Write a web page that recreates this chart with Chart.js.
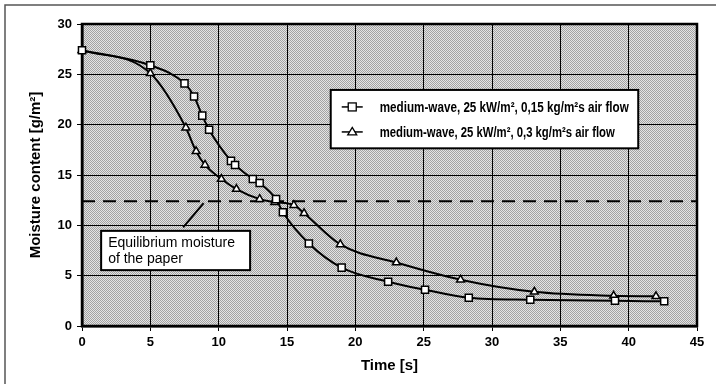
<!DOCTYPE html>
<html>
<head>
<meta charset="utf-8">
<script src="https://cdn.jsdelivr.net/npm/chart.js@4"></script>
<style>
  html, body { margin: 0; padding: 0; background: #fff; }
  #wrap { width: 716px; height: 384px; }
</style>
</head>
<body>
<div id="wrap"><canvas id="moistureChart" width="716" height="384"></canvas></div>
<script>
// data
const timeA = [0, 5, 7.5, 8.2, 8.8, 9.3, 10.9, 11.2, 12.5, 13.0, 14.2, 14.7, 16.6, 19.0, 22.4, 25.1, 28.3, 32.8, 39.0, 42.6];
const moistureA = [27.4, 25.9, 24.1, 22.8, 20.9, 19.5, 16.4, 16.0, 14.6, 14.2, 12.6, 11.3, 8.2, 5.8, 4.4, 3.6, 2.8, 2.6, 2.5, 2.45];
const timeB = [0, 5, 7.6, 8.35, 9.0, 10.2, 11.3, 13.0, 14.1, 15.5, 16.25, 18.9, 23.0, 27.7, 33.1, 38.9, 42.0];
const moistureB = [27.4, 25.1, 19.7, 17.35, 16.0, 14.6, 13.6, 12.6, 12.3, 12.0, 11.2, 8.1, 6.3, 4.6, 3.4, 3.0, 2.95];
const equilibriumTime = [0, 45];
const equilibriumMoisture = [12.4, 12.4];

const seriesLabels = [
    'medium-wave, 25 kW/m², 0,15 kg/m²s air flow',
    'medium-wave, 25 kW/m², 0,3 kg/m²s air flow'
];
const noteLines = ['Equilibrium moisture', 'of the paper'];
const xTicks = [0, 5, 10, 15, 20, 25, 30, 35, 40, 45];
const yTicks = [0, 5, 10, 15, 20, 25, 30];

function toPoints(xs, ys) {
    return xs.map((x, i) => ({ x: x, y: ys[i] }));
}

// dithered grey like the scanned original
function makePattern(ctx) {
    const c = document.createElement('canvas');
    c.width = 2; c.height = 2;
    const p = c.getContext('2d');
    p.fillStyle = '#e4e4e4'; p.fillRect(0, 0, 2, 2);
    p.fillStyle = '#a2a2a2'; p.fillRect(0, 0, 1, 1); p.fillRect(1, 1, 1, 1);
    return ctx.createPattern(c, 'repeat');
}

const decorPlugin = {
    id: 'decor',
    beforeDraw(chart) {
        const ctx = chart.ctx;
        const a = chart.chartArea;
        ctx.save();
        ctx.fillStyle = '#fff';
        ctx.fillRect(0, 0, chart.width, chart.height);
        ctx.fillStyle = makePattern(ctx);
        ctx.fillRect(a.left, a.top, a.right - a.left, a.bottom - a.top);
        // outer frame of the figure (top and left only)
        ctx.strokeStyle = '#555';
        ctx.lineWidth = 1.5;
        ctx.beginPath();
        ctx.moveTo(5, chart.height);
        ctx.lineTo(5, 5);
        ctx.lineTo(chart.width, 5);
        ctx.stroke();
        ctx.restore();
    },
    beforeDatasetsDraw(chart) {
        const ctx = chart.ctx;
        const a = chart.chartArea;
        ctx.save();
        ctx.strokeStyle = '#000';
        ctx.lineWidth = 2.5;
        ctx.strokeRect(a.left, a.top, a.right - a.left, a.bottom - a.top);
        ctx.restore();
    },
    afterDatasetsDraw(chart) {
        const ctx = chart.ctx;
        const xs = chart.scales.x, ys = chart.scales.y;
        ctx.save();

        // note box with leader line
        ctx.strokeStyle = '#000';
        ctx.lineWidth = 2;
        ctx.beginPath();
        ctx.moveTo(xs.getPixelForValue(7.4), ys.getPixelForValue(9.8));
        ctx.lineTo(xs.getPixelForValue(8.9), ys.getPixelForValue(12.2));
        ctx.stroke();
        const nx1 = xs.getPixelForValue(1.4), nx2 = xs.getPixelForValue(12.3);
        const ny1 = ys.getPixelForValue(9.45), ny2 = ys.getPixelForValue(5.55);
        ctx.fillStyle = '#fff';
        ctx.fillRect(nx1, ny1, nx2 - nx1, ny2 - ny1);
        ctx.strokeRect(nx1, ny1, nx2 - nx1, ny2 - ny1);
        ctx.fillStyle = '#000';
        ctx.font = '14px "Liberation Sans", Arial, sans-serif';
        ctx.textBaseline = 'alphabetic';
        ctx.fillText(noteLines[0], nx1 + 7, ny1 + 16);
        ctx.fillText(noteLines[1], nx1 + 7, ny1 + 32);

        // legend box
        const lx1 = xs.getPixelForValue(18.2), lx2 = xs.getPixelForValue(40.7);
        const ly1 = ys.getPixelForValue(23.45), ly2 = ys.getPixelForValue(17.65);
        ctx.fillStyle = '#fff';
        ctx.fillRect(lx1, ly1, lx2 - lx1, ly2 - ly1);
        ctx.strokeStyle = '#000';
        ctx.lineWidth = 2;
        ctx.strokeRect(lx1, ly1, lx2 - lx1, ly2 - ly1);
        const rows = [ly1 + 17, ly1 + 42];
        const widths = [249, 235];
        [0, 1].forEach(i => {
            const ds = chart.data.datasets[i];
            const cy = rows[i];
            ctx.strokeStyle = '#000';
            ctx.lineWidth = 1.5;
            ctx.beginPath();
            ctx.moveTo(lx1 + 11, cy);
            ctx.lineTo(lx1 + 32, cy);
            ctx.stroke();
            ctx.fillStyle = '#fff';
            ctx.lineWidth = 1.3;
            if (ds.pointStyle === 'rect') {
                ctx.fillRect(lx1 + 17.5, cy - 4, 8, 8);
                ctx.strokeRect(lx1 + 17.5, cy - 4, 8, 8);
            } else {
                ctx.beginPath();
                ctx.moveTo(lx1 + 21.5, cy - 4.5);
                ctx.lineTo(lx1 + 26, cy + 3);
                ctx.lineTo(lx1 + 17, cy + 3);
                ctx.closePath();
                ctx.fill();
                ctx.stroke();
            }
            ctx.fillStyle = '#000';
            ctx.font = 'bold 14px "Liberation Sans Narrow", "Arial Narrow", "Liberation Sans", Arial, sans-serif';
            ctx.textBaseline = 'middle';
            const w = ctx.measureText(ds.label).width;
            const sx = Math.min(1, widths[i] / w);
            ctx.save();
            ctx.translate(lx1 + 49, cy + 1);
            ctx.scale(sx, 1);
            ctx.fillText(ds.label, 0, 0);
            ctx.restore();
        });
        ctx.restore();
    }
};

function initializeMoistureChart() {
    const ctx = document.getElementById('moistureChart').getContext('2d');

    const data = {
        datasets: [
            {
                label: seriesLabels[0],
                data: toPoints(timeA, moistureA),
                borderColor: '#000',
                borderWidth: 2,
                pointStyle: 'rect',
                pointRadius: 5,
                pointBorderWidth: 1.5,
                pointBackgroundColor: '#fff',
                pointBorderColor: '#000',
                cubicInterpolationMode: 'monotone',
                clip: false
            },
            {
                label: seriesLabels[1],
                data: toPoints(timeB, moistureB),
                borderColor: '#000',
                borderWidth: 2,
                pointStyle: 'triangle',
                pointRadius: 4.5,
                pointBorderWidth: 1.5,
                pointBackgroundColor: '#fff',
                pointBorderColor: '#000',
                cubicInterpolationMode: 'monotone',
                clip: false
            },
            {
                label: 'Equilibrium moisture',
                data: toPoints(equilibriumTime, equilibriumMoisture),
                borderColor: '#000',
                borderWidth: 2,
                borderDash: [13, 8],
                pointRadius: 0
            }
        ]
    };

    const tickFont = { family: '"Liberation Sans", Arial, sans-serif', size: 13, weight: 'bold' };
    const titleFont = { family: '"Liberation Sans Narrow", "Liberation Sans", Arial, sans-serif', size: 15, weight: 'bold' };

    const options = {
        responsive: false,
        animation: false,
        devicePixelRatio: 1,
        layout: { padding: { left: 10, right: 19, top: 24, bottom: 0 } },
        scales: {
            x: {
                type: 'linear',
                min: 0,
                max: 45,
                afterBuildTicks: s => { s.ticks = xTicks.map(v => ({ value: v })); },
                afterFit: s => { s.height = 58; },
                ticks: { color: '#000', font: tickFont, padding: 4, maxRotation: 0 },
                grid: { color: '#000', lineWidth: 1, tickLength: 5 },
                border: { color: '#000', width: 2.5 },
                title: { display: true, text: 'Time [s]', color: '#000', font: titleFont, padding: { top: 0, bottom: 9 } }
            },
            y: {
                type: 'linear',
                min: 0,
                max: 30,
                afterBuildTicks: s => { s.ticks = yTicks.map(v => ({ value: v })); },
                afterFit: s => { s.width = 72; },
                ticks: { color: '#000', font: tickFont, padding: 5 },
                grid: { color: '#000', lineWidth: 1, tickLength: 5 },
                border: { color: '#000', width: 2.5 },
                title: { display: true, text: 'Moisture content [g/m²]', color: '#000', font: titleFont, padding: { top: 17, bottom: 0 } }
            }
        },
        plugins: {
            legend: { display: false },
            tooltip: { enabled: false }
        }
    };

    new Chart(ctx, {
        type: 'line',
        data: data,
        options: options,
        plugins: [decorPlugin]
    });
}

initializeMoistureChart();
</script>
</body>
</html>
